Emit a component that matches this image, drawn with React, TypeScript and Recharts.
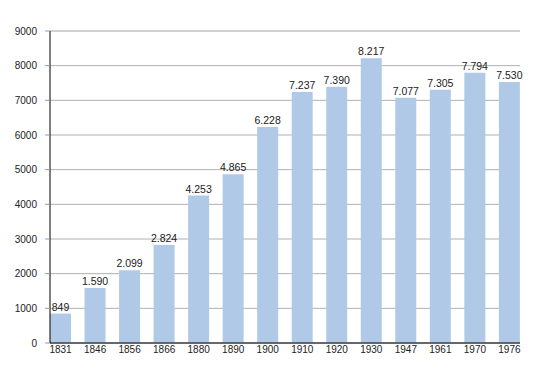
import React from 'react';
import { BarChart, Bar, XAxis, YAxis, CartesianGrid, LabelList } from 'recharts';

const years = ['1831', '1846', '1856', '1866', '1880', '1890', '1900', '1910', '1920', '1930', '1947', '1961', '1970', '1976'];
const population = [849, 1590, 2099, 2824, 4253, 4865, 6228, 7237, 7390, 8217, 7077, 7305, 7794, 7530];
const majorTicks = [0, 1000, 2000, 3000, 4000, 5000, 6000, 7000, 8000, 9000];
const minorTicks = [500, 1500, 2500, 3500, 4500, 5500, 6500, 7500, 8500];

const data = years.map((year, i) => ({ year, value: population[i] }));

const fmt = (v: number) => v.toLocaleString('de-DE');

const font = { fontFamily: '"Liberation Sans", Arial, sans-serif', fontSize: 10, fill: '#222' };

export default function App() {
  return (
    <div style={{ position: 'absolute', left: 0, top: 0, background: '#fff' }}>
      <BarChart
        width={550}
        height={373}
        data={data}
        margin={{ top: 31, right: 30, left: 0, bottom: 0 }}
        barCategoryGap={6.7}
      >
        <CartesianGrid vertical={false} yAxisId="minor" stroke="#e3e3e3" />
        <CartesianGrid vertical={false} stroke="#b0b0b0" />
        <XAxis
          dataKey="year"
          height={30}
          padding={{ left: -6.7, right: -6.7 }}
          tickLine={false}
          tickSize={0}
          tickMargin={3}
          axisLine={{ stroke: '#000' }}
          tick={font}
        />
        <YAxis yAxisId="minor" hide domain={[0, 9000]} ticks={minorTicks} interval={0} />
        <YAxis
          width={50}
          domain={[0, 9000]}
          ticks={majorTicks}
          interval={0}
          tickSize={5}
          tickMargin={8}
          tickLine={{ stroke: '#999' }}
          axisLine={{ stroke: '#000' }}
          tick={font}
        />
        <Bar dataKey="value" fill="#b0c9e6" isAnimationActive={false}>
          <LabelList dataKey="value" position="top" offset={3} formatter={fmt} style={{ ...font, fontSize: 10.5 }} />
        </Bar>
      </BarChart>
    </div>
  );
}
